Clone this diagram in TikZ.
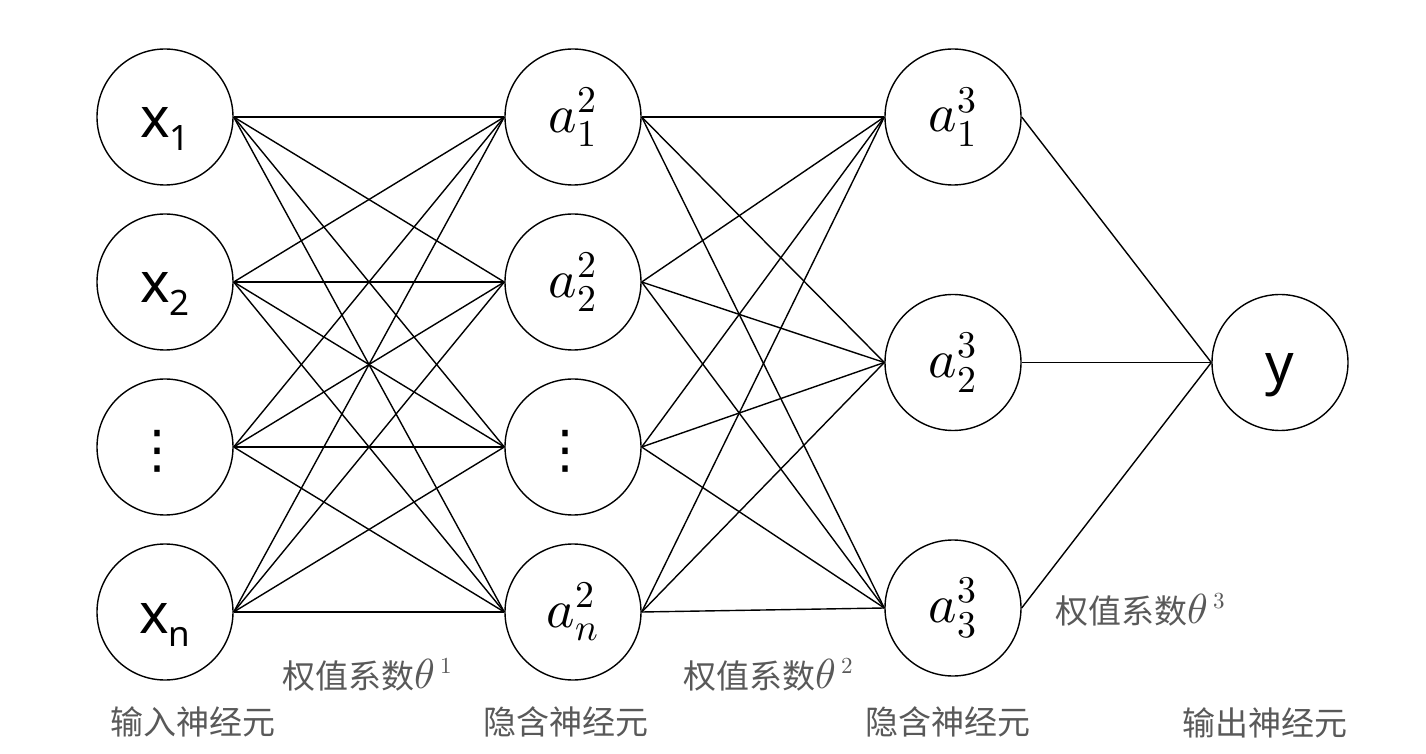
\documentclass[tikz,border=0pt]{standalone}
\usepackage{fontspec}
\usepackage{amsmath}
\usepackage{unicode-math}
\setmathfont{Latin Modern Math}
\setsansfont{Noto Sans}
\newfontfamily\cjkfont{Noto Sans CJK SC}
\newfontfamily\dotfont{DejaVu Sans}
\usetikzlibrary{positioning}
\definecolor{capgray}{RGB}{89,89,89}
\newcommand{\sfsub}[2]{#1\raisebox{-6.5pt}{\fontsize{17.5}{18}\selectfont #2}}
\newcommand{\wlabel}[1]{权值系数{\fontsize{21}{21}\selectfont$\theta$}\hspace{3pt}\raisebox{7.5pt}{\fontsize{11.5}{12}\selectfont$#1$}}

\begin{document}
\begin{tikzpicture}
		[x=0.5pt, y=-0.5pt, on grid,
		line width=0.7pt,
		neuron/.style= {circle, draw, minimum size=68pt, inner sep=0pt},
		in text/.style= {font=\fontsize{28}{30}\sffamily\selectfont, text height=21pt, text depth=0pt},
		hid text/.style= {font=\fontsize{27}{28}\selectfont},
		dot text/.style= {font=\fontsize{26}{28}\dotfont\selectfont, text height=20pt, text depth=0pt},
		caption/.style= {font=\fontsize{16.5}{18}\cjkfont\selectfont, text=capgray, inner sep=0pt}
		]
		\useasboundingbox (0,0) rectangle (1426,754);

		% input layer
		\node [neuron, in text] (x1) at (165,117) {\sfsub{x}{1}};
		\node [neuron, in text] (x2) [below=82.5pt of x1] {\sfsub{x}{2}};
		\node [neuron, dot text] (xd) [below=82.5pt of x2] {\hspace*{-8pt}⋮};
		\node [neuron, in text] (xn) [below=82.5pt of xd] {\sfsub{x}{n}};

		% first hidden layer
		\node [neuron, hid text] (h1) [right=204pt of x1] {$a^{2}_{1}$};
		\node [neuron, hid text] (h2) [below=82.5pt of h1] {$a^{2}_{2}$};
		\node [neuron, dot text] (hd) [below=82.5pt of h2] {\hspace*{-8pt}⋮};
		\node [neuron, hid text] (hn) [below=82.5pt of hd] {$a^{2}_{n}$};

		% second hidden layer
		\node [neuron, hid text] (g1) [right=190pt of h1] {$a^{3}_{1}$};
		\node [neuron, hid text] (g2) [below=122.75pt of g1] {$a^{3}_{2}$};
		\node [neuron, hid text] (g3) [below=122.75pt of g2] {$a^{3}_{3}$};

		% output
		\node [neuron, in text] (y) [right=163.5pt of g2] {y};

		\foreach \s in {x1,x2,xd,xn}
			\foreach \t in {h1,h2,hd,hn}
				\draw (\s.east) -- (\t.west);
		\foreach \s in {h1,h2,hd,hn}
			\foreach \t in {g1,g2,g3}
				\draw (\s.east) -- (\t.west);
		\foreach \s in {g1,g2,g3}
			\draw (\s.east) -- (y.west);

		\node [caption] (W1) [below right=31.5pt and 101pt of xn] {\wlabel{1}};
		\node [caption] (W2) [below right=31.5pt and 97.5pt of hn] {\wlabel{2}};
		\node [caption] (W3) [right=93.5pt of g3, yshift=-1pt] {\wlabel{3}};

		\node [caption] (Lin) [below right=55pt and 14pt of xn] {输入神经元};
		\node [caption] (Lh1) [below left=55pt and 3.5pt of hn] {隐含神经元};
		\node [caption] (Lh2) [below left=57pt and 2.5pt of g3] {隐含神经元};
		\node [caption] (Lout) [below left=180pt and 7.5pt of y] {输出神经元};

	\end{tikzpicture}
\end{document}
